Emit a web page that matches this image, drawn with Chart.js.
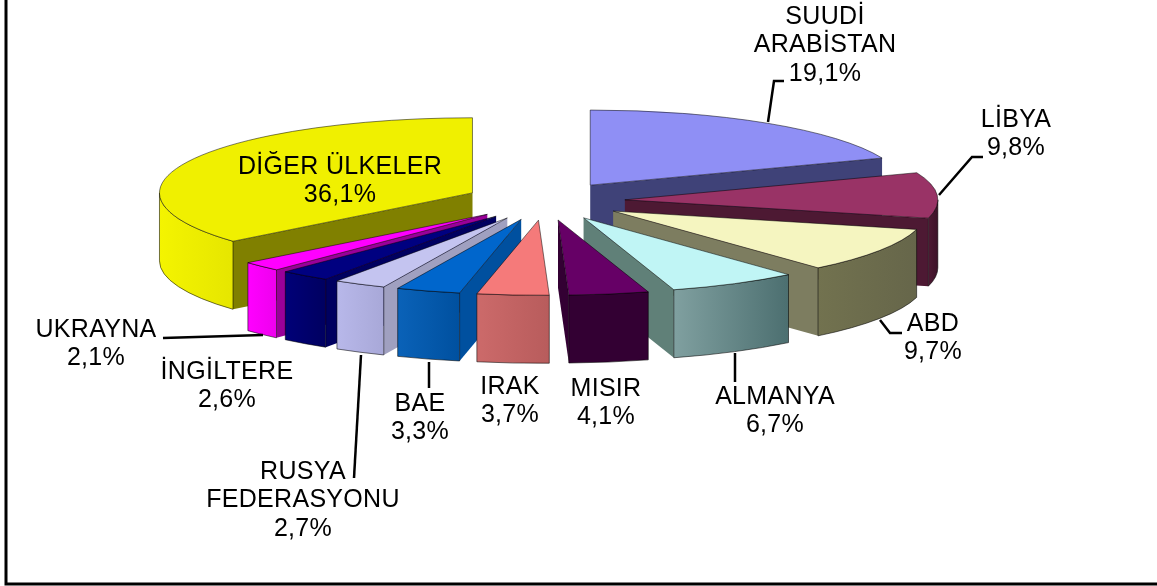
<!DOCTYPE html>
<html lang="tr">
<head>
<meta charset="utf-8">
<title>Ülkeler</title>
<script src="https://cdn.jsdelivr.net/npm/chart.js@4/dist/chart.umd.min.js"></script>
<style>
html, body { margin: 0; padding: 0; background: #fff; overflow: hidden; }
#wrap { width: 1157px; height: 586px; }
</style>
</head>
<body>
<div id="wrap"><canvas id="pie" width="1157" height="586"></canvas></div>
<script>
// Veriler
const categories = ['SUUDİ ARABİSTAN', 'LİBYA', 'ABD', 'ALMANYA', 'MISIR', 'IRAK', 'BAE', 'RUSYA FEDERASYONU', 'İNGİLTERE', 'UKRAYNA', 'DİĞER ÜLKELER'];
const shares = [19.1, 9.8, 9.7, 6.7, 4.1, 3.7, 3.3, 2.7, 2.6, 2.1, 36.1];
const labelLines = [['SUUDİ', 'ARABİSTAN'], ['LİBYA'], ['ABD'], ['ALMANYA'], ['MISIR'], ['IRAK'], ['BAE'], ['RUSYA', 'FEDERASYONU'], ['İNGİLTERE'], ['UKRAYNA'], ['DİĞER ÜLKELER']];

// Renkler: üst yüz, kesit yüzü, dış duvar (açık, koyu)
const topColors = ['#8f8ff5', '#993366', '#f5f5c0', '#c0f5f5', '#660066', '#f57a7a', '#0066cc', '#c4c4f0', '#000080', '#ff00ff', '#f0f000'];
const cutColors = ['#3f4278', '#4d1933', '#7d7d60', '#608078', '#330033', '#b05a5a', '#00509f', '#a0a0c0', '#000060', '#990099', '#808000'];
const wallLight = ['#3f4278', '#4d1933', '#72724f', '#80a0a0', '#330033', '#cc6a6a', '#0a62b8', '#b8b8ea', '#000078', '#ff00ff', '#f4f400'];
const wallDark = ['#3f4278', '#3c1228', '#66664a', '#4c6f70', '#330033', '#b85c5c', '#00509f', '#a8a8d8', '#000060', '#ee00ee', '#e6e600'];

// Yerleşim sabitleri
const squash = 0.24;
const explode = 80;
const depth = 68;
const labelFont = '25px "Liberation Sans", Arial, sans-serif';
const labelAt = [[825, 17], [1016, 120], [933, 324], [775, 397], [606, 389], [510, 387], [420, 404], [303, 472], [227, 372], [96, 330], [340, 167]];
const leaders = [
    [[768, 122], [774, 81], [784, 81]],
    [[939, 195], [972, 157], [983, 157]],
    [[880, 320], [890, 333], [902, 333]],
    [[735, 353], [735, 382]],
    [[429, 362], [429, 388]],
    [[361, 355], [354, 478]],
    [[163, 338], [263, 335]]
];

function wallFill(ctx, i, x0, x1) {
    const g = ctx.createLinearGradient(x0, 0, x1, 0);
    g.addColorStop(0, wallLight[i]);
    g.addColorStop(1, wallDark[i]);
    return g;
}

// Dilimi basık elips olarak ve derinlikle çizer
function drawSlice(ctx, arc, i) {
    const { x, y, startAngle, endAngle, outerRadius } = arc.getProps(['x', 'y', 'startAngle', 'endAngle', 'outerRadius']);
    const mid = (startAngle + endAngle) / 2;
    const tipX = x + Math.cos(mid) * explode;
    const tipY = y + Math.sin(mid) * explode * squash;
    const ry = outerRadius * squash;
    const px = a => tipX + Math.cos(a) * outerRadius;
    const py = a => tipY + Math.sin(a) * ry;

    // kesit yüzleri
    const cut = a => {
        ctx.beginPath();
        ctx.moveTo(tipX, tipY);
        ctx.lineTo(px(a), py(a));
        ctx.lineTo(px(a), py(a) + depth);
        ctx.lineTo(tipX, tipY + depth);
        ctx.closePath();
        ctx.fillStyle = cutColors[i];
        ctx.fill();
    };
    if (-Math.cos(startAngle) > 0) cut(startAngle);
    if (Math.cos(endAngle) > 0) cut(endAngle);

    // dış duvar (yalnız öne bakan kısım: açı 0..PI)
    const from = Math.max(startAngle, 0), to = Math.min(endAngle, Math.PI);
    if (to > from) {
        ctx.beginPath();
        ctx.ellipse(tipX, tipY, outerRadius, ry, 0, from, to);
        ctx.ellipse(tipX, tipY + depth, outerRadius, ry, 0, to, from, true);
        ctx.closePath();
        ctx.fillStyle = wallFill(ctx, i, px(to), px(from));
        ctx.fill();
        ctx.strokeStyle = 'rgba(0,0,0,0.55)';
        ctx.lineWidth = 1;
        ctx.stroke();
    }

    // üst yüz, kütüphanenin kendi yayı ile
    ctx.save();
    ctx.translate(tipX, tipY);
    ctx.scale(1, squash);
    ctx.translate(-x, -y);
    arc.draw(ctx);
    ctx.restore();

    ctx.beginPath();
    ctx.moveTo(tipX, tipY);
    ctx.ellipse(tipX, tipY, outerRadius, ry, 0, startAngle, endAngle);
    ctx.closePath();
    ctx.strokeStyle = 'rgba(0,0,0,0.5)';
    ctx.lineWidth = 1;
    ctx.stroke();
}

const pie3d = {
    id: 'pie3d',
    beforeDatasetsDraw(chart) {
        const ctx = chart.ctx;
        const arcs = chart.getDatasetMeta(0).data;
        // arkadan öne sırala
        const order = arcs.map((arc, i) => i).sort((p, q) => {
            const m = k => Math.sin((arcs[k].startAngle + arcs[k].endAngle) / 2);
            return m(p) - m(q);
        });
        order.forEach(i => drawSlice(ctx, arcs[i], i));
        return false;
    },
    afterDraw(chart) {
        const ctx = chart.ctx;
        ctx.save();
        // çerçeve: sadece sol ve alt
        ctx.strokeStyle = '#000';
        ctx.lineWidth = 3;
        ctx.beginPath();
        ctx.moveTo(6, 0);
        ctx.lineTo(6, 584);
        ctx.lineTo(1157, 584);
        ctx.stroke();
        // kılavuz çizgileri
        ctx.lineWidth = 2.5;
        leaders.forEach(pts => {
            ctx.beginPath();
            pts.forEach((p, k) => k ? ctx.lineTo(p[0], p[1]) : ctx.moveTo(p[0], p[1]));
            ctx.stroke();
        });
        // etiketler
        ctx.fillStyle = '#000';
        ctx.font = labelFont;
        ctx.letterSpacing = '0.3px';
        ctx.textAlign = 'center';
        ctx.textBaseline = 'middle';
        categories.forEach((c, i) => {
            const lines = labelLines[i].concat(shares[i].toFixed(1).replace('.', ',') + '%');
            lines.forEach((t, k) => ctx.fillText(t, labelAt[i][0], labelAt[i][1] + k * 28.5));
        });
        ctx.restore();
    }
};

new Chart(document.getElementById('pie'), {
    type: 'pie',
    data: {
        labels: categories,
        datasets: [{
            data: shares,
            backgroundColor: topColors,
            borderWidth: 0,
            radius: 313
        }]
    },
    options: {
        responsive: false,
        animation: false,
        layout: { padding: { right: 67, bottom: 184 } },
        plugins: { legend: { display: false }, tooltip: { enabled: false } }
    },
    plugins: [pie3d]
});
</script>
</body>
</html>
